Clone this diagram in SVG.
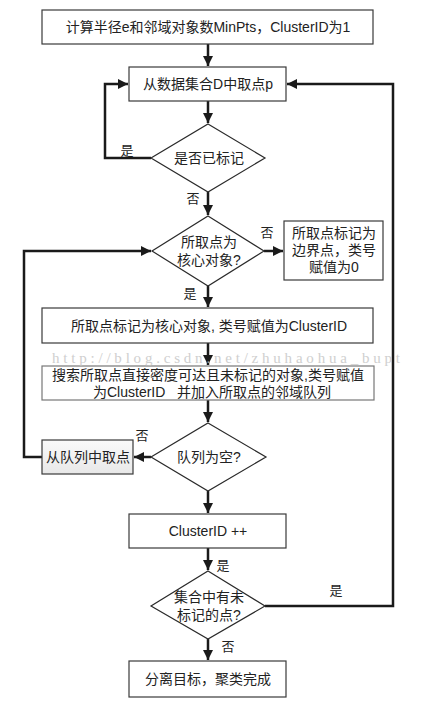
<svg xmlns="http://www.w3.org/2000/svg" width="434" height="710" viewBox="0 0 434 710">
<style>
.box{fill:#fff;stroke:#3a3a3a;stroke-width:1.2}
.dia{fill:#fff;stroke:#2a2a2a;stroke-width:1.2}
.t{font-family:"Liberation Sans","Noto Sans CJK SC",sans-serif;font-size:14px;fill:#222;text-anchor:middle;dominant-baseline:central}
.lbl{font-family:"Liberation Sans","Noto Sans CJK SC",sans-serif;font-size:13px;fill:#222;text-anchor:middle;dominant-baseline:central}
.c{fill:none;stroke:#1a1a1a;stroke-width:2.5;marker-end:url(#ah)}
.wm{font-family:"Liberation Serif","Noto Sans CJK SC",serif;font-size:15px;fill:#c4c4c4;opacity:0.8}
</style>
<defs>
<marker id="ah" markerUnits="userSpaceOnUse" markerWidth="11" markerHeight="11" refX="10" refY="5" orient="auto">
<path d="M0,0 L10,5 L0,10 z" fill="#1a1a1a"/>
</marker>
<linearGradient id="gq" x1="0" y1="0" x2="0" y2="1">
<stop offset="0" stop-color="#fafafa"/>
<stop offset="1" stop-color="#e8e8e8"/>
</linearGradient>
</defs>
<rect width="434" height="710" fill="#fff"/>
<g id="connectors">
<path class="c" d="M208,44 V66"/>
<path class="c" d="M208,101 V123"/>
<path class="c" d="M151,158 H105 V84 H128"/>
<path class="c" d="M208,192 V215"/>
<path class="c" d="M264,251 H283"/>
<path class="c" d="M208,286 V307"/>
<path class="c" d="M208,343 V365"/>
<path class="c" d="M208,400 V422"/>
<path class="c" d="M151,457 H134"/>
<path class="c" d="M42,457 H24 V251 H151"/>
<path class="c" d="M208,491 V513"/>
<path class="c" d="M208,548 V570"/>
<path class="c" d="M208,639 V660"/>
<path class="c" d="M265,606 H393 V84 H287"/>
</g>
<g id="labels">
<text class="lbl" x="127" y="150">是</text>
<text class="lbl" x="193" y="198">否</text>
<text class="lbl" x="267" y="232">否</text>
<text class="lbl" x="190" y="293">是</text>
<text class="lbl" x="142" y="435">否</text>
<text class="lbl" x="223" y="565">是</text>
<text class="lbl" x="336" y="590">是</text>
<text class="lbl" x="228" y="646">否</text>
</g>
<g id="n1"><rect class="box" x="42" y="10" width="331" height="34"/><text class="t" x="208" y="27">计算半径e和邻域对象数MinPts，ClusterID为1</text></g>
<g id="n2"><rect class="box" x="129" y="67" width="157" height="34"/><text class="t" x="208" y="84">从数据集合D中取点p</text></g>
<g id="n3"><polygon class="dia" points="208,124 265,158 208,192 151,158"/><text class="t" x="209" y="158">是否已标记</text></g>
<g id="n4"><polygon class="dia" points="208,216 264,251 208,286 152,251"/><text class="t" x="209" y="242">所取点为</text><text class="t" x="209" y="260">核心对象?</text></g>
<g id="n5"><rect class="box" x="284" y="221" width="99" height="59"/><text class="t" x="334" y="233">所取点标记为</text><text class="t" x="334" y="250">边界点，类号</text><text class="t" x="334" y="267">赋值为0</text></g>
<g id="n6"><rect class="box" x="42" y="308" width="331" height="35"/><text class="t" x="209" y="326">所取点标记为核心对象, 类号赋值为ClusterID</text></g>
<g id="n7"><rect class="box" x="42" y="366" width="332" height="34" style="stroke:#777"/><text class="t" x="208" y="375">搜索所取点直接密度可达且未标记的对象,类号赋值</text><text class="t" x="212" y="392" xml:space="preserve">为ClusterID   并加入所取点的邻域队列</text></g>
<text class="wm" x="52" y="363" textLength="348" lengthAdjust="spacing">http://blog.csdn.net/zhuhaohua_bupt</text>
<g id="n8"><polygon class="dia" points="208,423 266,457 208,491 151,457"/><text class="t" x="209" y="457">队列为空?</text></g>
<g id="n9"><rect class="box" x="42" y="440" width="91" height="34" style="fill:url(#gq)"/><text class="t" x="88" y="457">从队列中取点</text></g>
<g id="n10"><rect class="box" x="129" y="514" width="157" height="34"/><text class="t" x="208" y="531">ClusterID ++</text></g>
<g id="n11"><polygon class="dia" points="208,571 265,606 208,639 151,606"/><text class="t" x="209" y="597">集合中有未</text><text class="t" x="209" y="615">标记的点?</text></g>
<g id="n12"><rect class="box" x="129" y="661" width="157" height="36"/><text class="t" x="208" y="679">分离目标，聚类完成</text></g>
</svg>
